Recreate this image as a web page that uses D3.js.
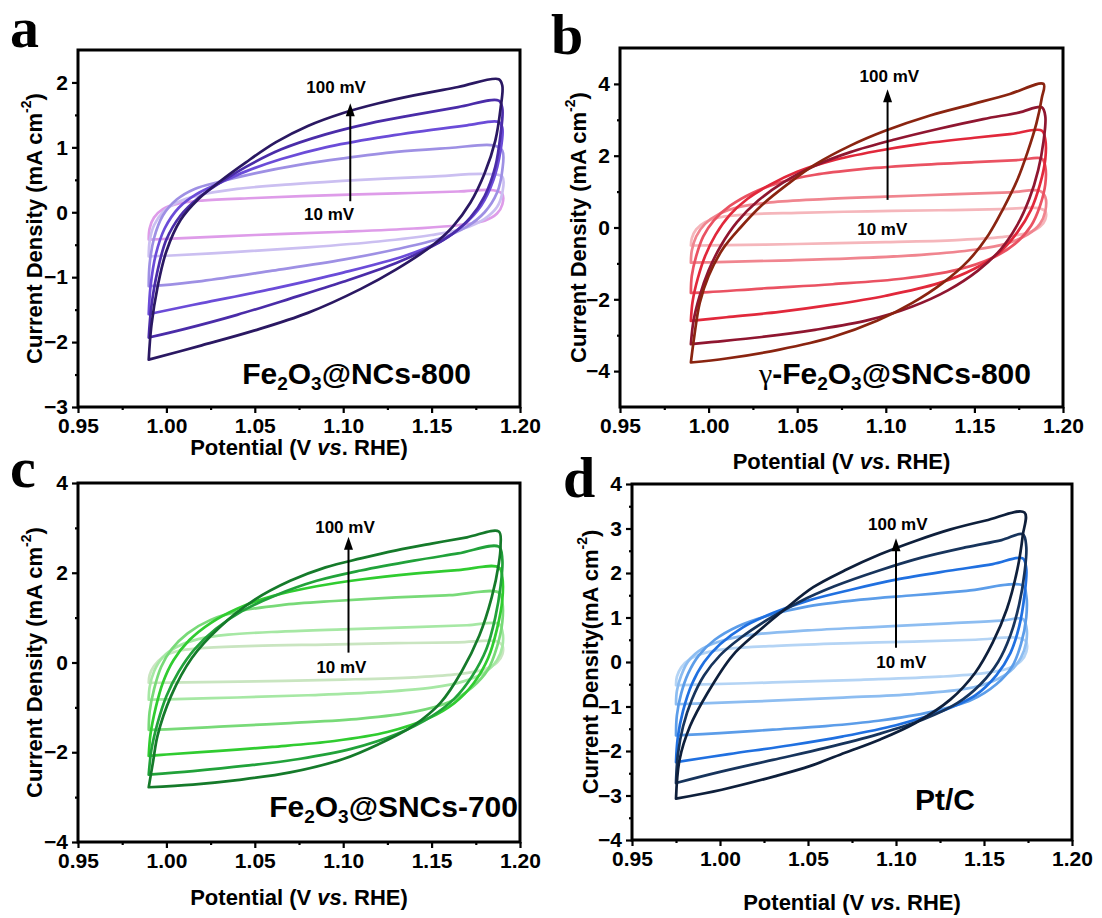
<!DOCTYPE html>
<html><head><meta charset="utf-8">
<script src="https://cdn.jsdelivr.net/npm/d3@7"></script>
<style>body{margin:0;background:#fff}svg{display:block}</style>
</head><body><svg id="chart" width="1102" height="918"></svg>
<script>
// ---------------- DATA ----------------
const scanRates = [10, 20, 40, 60, 80, 100];
const xTickValues = [0.95, 1.00, 1.05, 1.10, 1.15, 1.20];
const yTicksA = [-3, -2, -1, 0, 1, 2];
const yTicksB = [-4, -2, 0, 2, 4];
const yTicksC = [-4, -2, 0, 2, 4];
const yTicksD = [-4, -3, -2, -1, 0, 1, 2, 3, 4];

// Panel a : Fe2O3@NCs-800 (E vs RHE, j mA cm-2), one loop per scan rate
const cvA = [
 [[0.99,-0.42],[0.9905,-0.25],[0.993,-0.08],[0.998,0.05],[1.006,0.13],[1.02,0.18],[1.05,0.22],[1.09,0.26],[1.13,0.29],[1.165,0.32],[1.185,0.34],[1.19,0.28],[1.19,0.12],[1.187,-0.02],[1.18,-0.13],[1.165,-0.2],[1.14,-0.25],[1.1,-0.3],[1.05,-0.35],[1.0,-0.41],[0.99,-0.42]],
 [[0.99,-0.68],[0.9905,-0.45],[0.993,-0.2],[0.998,0.0],[1.006,0.15],[1.018,0.26],[1.04,0.36],[1.07,0.43],[1.11,0.5],[1.15,0.55],[1.18,0.59],[1.19,0.55],[1.19,0.3],[1.187,0.08],[1.18,-0.1],[1.168,-0.25],[1.15,-0.35],[1.12,-0.45],[1.08,-0.54],[1.04,-0.61],[1.0,-0.67],[0.99,-0.68]],
 [[0.99,-1.14],[0.9905,-0.8],[0.993,-0.4],[0.998,-0.05],[1.006,0.2],[1.016,0.36],[1.03,0.47],[1.05,0.6],[1.075,0.73],[1.1,0.83],[1.13,0.93],[1.16,0.99],[1.185,1.03],[1.19,0.95],[1.19,0.65],[1.187,0.3],[1.18,0.0],[1.17,-0.22],[1.155,-0.4],[1.13,-0.57],[1.1,-0.73],[1.06,-0.9],[1.02,-1.06],[0.995,-1.13],[0.99,-1.14]],
 [[0.99,-1.57],[0.991,-1.15],[0.994,-0.65],[0.999,-0.25],[1.007,0.07],[1.017,0.28],[1.03,0.45],[1.045,0.63],[1.065,0.82],[1.09,1.0],[1.12,1.15],[1.15,1.27],[1.17,1.34],[1.188,1.39],[1.19,1.3],[1.189,0.95],[1.185,0.5],[1.178,0.1],[1.168,-0.2],[1.155,-0.45],[1.135,-0.67],[1.1,-0.93],[1.06,-1.18],[1.02,-1.4],[0.995,-1.54],[0.99,-1.57]],
 [[0.99,-1.93],[0.9915,-1.45],[0.995,-0.9],[1.0,-0.42],[1.008,-0.05],[1.018,0.22],[1.03,0.45],[1.045,0.7],[1.065,0.97],[1.09,1.2],[1.115,1.37],[1.14,1.5],[1.165,1.62],[1.188,1.72],[1.19,1.6],[1.189,1.2],[1.186,0.7],[1.18,0.25],[1.172,-0.08],[1.162,-0.33],[1.15,-0.53],[1.13,-0.78],[1.1,-1.07],[1.07,-1.33],[1.04,-1.58],[1.01,-1.8],[0.99,-1.93]],
 [[0.99,-2.27],[0.9915,-1.75],[0.995,-1.15],[1.0,-0.6],[1.008,-0.12],[1.018,0.2],[1.03,0.47],[1.045,0.77],[1.062,1.08],[1.08,1.33],[1.1,1.53],[1.12,1.68],[1.14,1.8],[1.165,1.93],[1.188,2.05],[1.19,1.95],[1.189,1.6],[1.186,1.1],[1.18,0.6],[1.172,0.15],[1.162,-0.22],[1.15,-0.52],[1.13,-0.88],[1.11,-1.18],[1.08,-1.55],[1.05,-1.82],[1.02,-2.05],[0.99,-2.27]]
];

// Panel b : γ-Fe2O3@SNCs-800
const cvB = [
 [[0.99,-0.5],[0.9905,-0.3],[0.993,-0.05],[0.998,0.15],[1.006,0.28],[1.02,0.36],[1.05,0.41],[1.09,0.45],[1.13,0.48],[1.165,0.51],[1.186,0.54],[1.19,0.45],[1.19,0.22],[1.187,0.02],[1.18,-0.15],[1.165,-0.27],[1.14,-0.35],[1.1,-0.41],[1.05,-0.46],[1.0,-0.5],[0.99,-0.5]],
 [[0.99,-0.98],[0.9905,-0.65],[0.993,-0.25],[0.998,0.1],[1.006,0.38],[1.018,0.58],[1.035,0.7],[1.065,0.79],[1.1,0.86],[1.14,0.93],[1.17,0.98],[1.187,1.02],[1.19,0.85],[1.19,0.45],[1.187,0.1],[1.18,-0.2],[1.168,-0.45],[1.15,-0.62],[1.12,-0.76],[1.08,-0.86],[1.04,-0.92],[1.0,-0.97],[0.99,-0.98]],
 [[0.99,-1.82],[0.9905,-1.35],[0.993,-0.8],[0.997,-0.25],[1.003,0.2],[1.012,0.6],[1.025,0.97],[1.04,1.25],[1.06,1.47],[1.085,1.62],[1.115,1.73],[1.15,1.82],[1.175,1.88],[1.188,1.92],[1.19,1.7],[1.19,1.2],[1.187,0.6],[1.182,0.05],[1.173,-0.45],[1.16,-0.85],[1.14,-1.18],[1.11,-1.42],[1.07,-1.58],[1.03,-1.7],[1.0,-1.8],[0.99,-1.82]],
 [[0.99,-2.6],[0.991,-2.05],[0.994,-1.4],[0.998,-0.8],[1.004,-0.2],[1.012,0.35],[1.022,0.8],[1.035,1.2],[1.05,1.55],[1.07,1.87],[1.095,2.13],[1.12,2.33],[1.15,2.5],[1.17,2.6],[1.188,2.7],[1.19,2.45],[1.19,1.9],[1.187,1.2],[1.182,0.5],[1.174,-0.15],[1.164,-0.7],[1.15,-1.15],[1.13,-1.55],[1.1,-1.9],[1.07,-2.15],[1.04,-2.35],[1.01,-2.5],[0.99,-2.6]],
 [[0.99,-3.25],[0.9915,-2.6],[0.995,-1.9],[1.0,-1.2],[1.007,-0.5],[1.016,0.15],[1.028,0.75],[1.042,1.25],[1.06,1.72],[1.08,2.1],[1.105,2.45],[1.13,2.75],[1.155,3.02],[1.175,3.2],[1.188,3.35],[1.19,3.1],[1.189,2.4],[1.186,1.6],[1.181,0.8],[1.174,0.05],[1.165,-0.6],[1.152,-1.2],[1.135,-1.75],[1.115,-2.2],[1.09,-2.58],[1.06,-2.85],[1.03,-3.05],[1.0,-3.2],[0.99,-3.25]],
 [[0.99,-3.76],[0.992,-3.0],[0.995,-2.1],[1.0,-1.35],[1.008,-0.6],[1.018,0.0],[1.03,0.62],[1.045,1.22],[1.06,1.75],[1.08,2.28],[1.1,2.7],[1.125,3.12],[1.15,3.45],[1.17,3.72],[1.189,4.0],[1.188,3.6],[1.185,2.9],[1.18,2.1],[1.174,1.3],[1.166,0.5],[1.158,-0.2],[1.147,-0.9],[1.132,-1.55],[1.115,-2.1],[1.095,-2.6],[1.07,-3.05],[1.04,-3.4],[1.01,-3.65],[0.99,-3.76]]
];

// Panel c : Fe2O3@SNCs-700
const cvC = [
 [[0.99,-0.45],[0.9905,-0.28],[0.993,-0.08],[0.998,0.12],[1.006,0.25],[1.02,0.32],[1.05,0.37],[1.09,0.4],[1.13,0.43],[1.165,0.45],[1.187,0.47],[1.19,0.38],[1.19,0.18],[1.187,0.0],[1.18,-0.15],[1.165,-0.26],[1.14,-0.33],[1.1,-0.38],[1.05,-0.42],[1.0,-0.45],[0.99,-0.45]],
 [[0.99,-0.83],[0.9905,-0.55],[0.993,-0.2],[0.998,0.12],[1.006,0.35],[1.018,0.52],[1.035,0.62],[1.065,0.69],[1.1,0.74],[1.14,0.79],[1.17,0.83],[1.188,0.86],[1.19,0.7],[1.19,0.35],[1.187,0.05],[1.18,-0.22],[1.168,-0.42],[1.15,-0.56],[1.12,-0.66],[1.08,-0.73],[1.04,-0.78],[1.0,-0.82],[0.99,-0.83]],
 [[0.99,-1.5],[0.9905,-1.1],[0.993,-0.6],[0.997,-0.1],[1.003,0.3],[1.012,0.65],[1.025,0.95],[1.042,1.15],[1.065,1.28],[1.095,1.37],[1.13,1.45],[1.16,1.5],[1.188,1.56],[1.19,1.35],[1.19,0.9],[1.187,0.35],[1.182,-0.15],[1.173,-0.55],[1.16,-0.88],[1.14,-1.1],[1.11,-1.25],[1.07,-1.35],[1.03,-1.43],[1.0,-1.49],[0.99,-1.5]],
 [[0.99,-2.08],[0.991,-1.6],[0.994,-1.0],[0.998,-0.45],[1.004,0.05],[1.013,0.5],[1.025,0.88],[1.04,1.2],[1.06,1.48],[1.085,1.7],[1.11,1.85],[1.14,1.98],[1.165,2.06],[1.188,2.12],[1.19,1.9],[1.19,1.4],[1.187,0.75],[1.182,0.1],[1.174,-0.45],[1.163,-0.9],[1.148,-1.25],[1.125,-1.55],[1.095,-1.75],[1.06,-1.88],[1.03,-1.97],[1.0,-2.05],[0.99,-2.08]],
 [[0.99,-2.5],[0.9915,-1.95],[0.995,-1.35],[1.0,-0.75],[1.007,-0.2],[1.016,0.3],[1.028,0.75],[1.043,1.15],[1.062,1.5],[1.085,1.82],[1.11,2.05],[1.14,2.27],[1.165,2.43],[1.188,2.58],[1.19,2.3],[1.189,1.7],[1.186,1.0],[1.181,0.3],[1.173,-0.3],[1.163,-0.8],[1.15,-1.2],[1.13,-1.6],[1.105,-1.92],[1.075,-2.15],[1.045,-2.3],[1.015,-2.42],[0.99,-2.5]],
 [[0.99,-2.78],[0.9925,-2.2],[0.995,-1.63],[1.0026,-0.75],[1.0144,0.1],[1.03,0.78],[1.05,1.4],[1.07,1.82],[1.09,2.12],[1.11,2.32],[1.13,2.5],[1.15,2.65],[1.17,2.79],[1.188,2.92],[1.189,2.6],[1.188,2.2],[1.184,1.45],[1.177,0.6],[1.167,-0.2],[1.155,-0.9],[1.14,-1.4],[1.12,-1.82],[1.1,-2.15],[1.07,-2.45],[1.04,-2.62],[1.015,-2.72],[0.99,-2.78]]
];

// Panel d : Pt/C
const cvD = [
 [[0.975,-0.52],[0.9755,-0.33],[0.978,-0.12],[0.983,0.07],[0.991,0.2],[1.005,0.3],[1.035,0.37],[1.07,0.42],[1.11,0.46],[1.145,0.5],[1.17,0.54],[1.174,0.45],[1.174,0.22],[1.171,0.02],[1.164,-0.14],[1.15,-0.25],[1.125,-0.33],[1.08,-0.4],[1.03,-0.46],[0.985,-0.51],[0.975,-0.52]],
 [[0.975,-0.95],[0.9755,-0.65],[0.978,-0.3],[0.982,0.02],[0.99,0.3],[1.003,0.5],[1.02,0.62],[1.05,0.71],[1.09,0.79],[1.13,0.87],[1.16,0.93],[1.172,0.97],[1.174,0.8],[1.174,0.45],[1.171,0.1],[1.165,-0.2],[1.155,-0.43],[1.14,-0.6],[1.11,-0.72],[1.07,-0.8],[1.03,-0.87],[0.99,-0.93],[0.975,-0.95]],
 [[0.975,-1.65],[0.9755,-1.2],[0.978,-0.7],[0.982,-0.25],[0.988,0.15],[0.997,0.5],[1.01,0.8],[1.028,1.05],[1.05,1.25],[1.08,1.4],[1.11,1.5],[1.14,1.6],[1.172,1.72],[1.174,1.5],[1.174,1.0],[1.171,0.4],[1.166,-0.1],[1.157,-0.5],[1.143,-0.85],[1.12,-1.12],[1.09,-1.32],[1.06,-1.44],[1.03,-1.52],[1.0,-1.6],[0.975,-1.65]],
 [[0.975,-2.25],[0.976,-1.7],[0.979,-1.1],[0.984,-0.5],[0.991,0.0],[1.0,0.4],[1.013,0.78],[1.03,1.1],[1.05,1.38],[1.075,1.63],[1.1,1.85],[1.13,2.05],[1.155,2.2],[1.172,2.33],[1.174,2.1],[1.173,1.5],[1.17,0.8],[1.165,0.2],[1.157,-0.3],[1.145,-0.75],[1.125,-1.12],[1.1,-1.42],[1.07,-1.67],[1.04,-1.87],[1.005,-2.07],[0.975,-2.25]],
 [[0.975,-2.72],[0.976,-2.1],[0.979,-1.45],[0.984,-0.85],[0.991,-0.3],[1.0,0.15],[1.012,0.55],[1.027,0.95],[1.045,1.35],[1.065,1.7],[1.09,2.05],[1.115,2.35],[1.14,2.58],[1.16,2.74],[1.172,2.87],[1.174,2.6],[1.173,2.0],[1.17,1.3],[1.165,0.6],[1.158,0.0],[1.148,-0.5],[1.135,-0.92],[1.115,-1.3],[1.09,-1.62],[1.06,-1.93],[1.03,-2.2],[1.0,-2.47],[0.975,-2.72]],
 [[0.975,-3.07],[0.977,-2.2],[0.983,-1.44],[0.993,-0.69],[1.007,0.14],[1.021,0.66],[1.037,1.19],[1.053,1.68],[1.071,2.06],[1.091,2.42],[1.111,2.72],[1.131,2.98],[1.151,3.18],[1.173,3.36],[1.172,2.84],[1.169,2.09],[1.163,1.19],[1.155,0.44],[1.145,-0.24],[1.131,-0.84],[1.111,-1.37],[1.091,-1.74],[1.071,-2.04],[1.051,-2.34],[1.031,-2.57],[1.001,-2.87],[0.975,-3.07]]
];

// colours per scan rate (10 -> 100 mV)
const colorsA = ['#de9ce9','#cbbff1','#9e90e4','#6b4cd8','#4a2ca8','#2a1862'];
const colorsB = ['#f5b6bb','#f0858f','#ea5262','#e1283b','#8f1630','#8a2410'];
const colorsC = ['#c9e5c0','#a6e8a4','#78da78','#30cc30','#21a23a','#157a2a'];
const colorsD = ['#b4d4f5','#8dbdf1','#5c9de9','#2070e0','#17345c','#0e1f3b'];

// ---------------- DRAW ----------------
const svg = d3.select('#chart');
const SANS = "'Liberation Sans', Arial, sans-serif";
const SERIF = "'Liberation Serif', 'Times New Roman', serif";

const panels = [
  {letter:'a', letterPos:[10,47], loops:cvA, colors:colorsA, yDom:[-3,2.5], yTicks:yTicksA, yMinorStep:0.5,
   box:[78,520,50,407], yTitle:'Current Density (mA cm', yTitleX:34,
   arrow:{x:1.104, y0:0.17, y1:1.68, top:[1.096,1.92], bot:[1.092,-0.04]}, titleDy:48},
  {letter:'b', letterPos:[551,54], loops:cvB, colors:colorsB, yDom:[-5,5], yTicks:yTicksB, yMinorStep:1,
   box:[620,1063,48,407], yTitle:'Current Density (mA cm', yTitleX:578,
   arrow:{x:1.101, y0:0.77, y1:3.85, top:[1.102,4.2], bot:[1.098,-0.06]}, titleDy:62},
  {letter:'c', letterPos:[10,487], loops:cvC, colors:colorsC, yDom:[-4,4], yTicks:yTicksC, yMinorStep:1,
   box:[78,520,483,842], yTitle:'Current Density (mA cm', yTitleX:34,
   arrow:{x:1.103, y0:0.22, y1:2.8, top:[1.101,3.0], bot:[1.099,-0.11]}, titleDy:63},
  {letter:'d', letterPos:[563,497], loops:cvD, colors:colorsD, yDom:[-4,4], yTicks:yTicksD, yMinorStep:0.5,
   box:[632,1072,484,840], yTitle:'Current Density(mA cm', yTitleX:590,
   arrow:{x:1.100, y0:0.32, y1:2.78, top:[1.101,3.1], bot:[1.103,-0.02]}, titleDy:70}
];

const sampleLabels = [
  {parts:[['Fe',0],['2',1],['O',0],['3',1],['@NCs-800',0]], anchorX:471, baseY:384},
  {parts:[['γ',2],['-Fe',0],['2',1],['O',0],['3',1],['@SNCs-800',0]], anchorX:1031, baseY:384},
  {parts:[['Fe',0],['2',1],['O',0],['3',1],['@SNCs-700',0]], anchorX:518, baseY:817},
  {parts:[['Pt/C',0]], anchorX:975, baseY:810}
];

panels.forEach((p, pi) => {
  const [x0,x1,y0,y1] = p.box;
  const x = d3.scaleLinear().domain([0.95,1.20]).range([x0,x1]);
  const y = d3.scaleLinear().domain(p.yDom).range([y1,y0]);
  const g = svg.append('g');

  // curves
  const line = d3.line().x(d=>x(d[0])).y(d=>y(d[1])).curve(d3.curveCatmullRom.alpha(0.5));
  p.loops.forEach((L,i) => {
    g.append('path').attr('d', line(L)).attr('fill','none')
      .attr('stroke', p.colors[i]).attr('stroke-width', 2.7)
      .attr('stroke-linejoin','round').attr('stroke-linecap','round');
  });

  // axes
  const fmt = d3.format('.2f');
  const xMinor = d3.range(0.975, 1.2, 0.05);
  g.append('g').attr('transform',`translate(0,${y1})`)
    .call(d3.axisBottom(x).tickValues(xTickValues).tickFormat(fmt).tickSize(6).tickPadding(5));
  g.append('g').attr('transform',`translate(0,${y1})`)
    .call(d3.axisBottom(x).tickValues(xMinor).tickFormat('').tickSize(3));
  g.append('g').attr('transform',`translate(${x0},0)`)
    .call(d3.axisLeft(y).tickValues(p.yTicks).tickFormat(d3.format('d')).tickSize(6).tickPadding(4));
  const yMinor = d3.range(p.yDom[0]+p.yMinorStep, p.yDom[1], p.yMinorStep).filter(v => !p.yTicks.some(t=>Math.abs(t-v)<1e-9));
  g.append('g').attr('transform',`translate(${x0},0)`)
    .call(d3.axisLeft(y).tickValues(yMinor).tickFormat('').tickSize(3));
  g.selectAll('.domain').remove();
  g.selectAll('.tick line').attr('stroke','#000').attr('stroke-width',2.2);
  g.selectAll('.tick text').attr('font-family',SANS).attr('font-weight','bold')
    .attr('font-size',21).attr('fill','#000');

  // frame
  g.append('rect').attr('x',x0).attr('y',y0).attr('width',x1-x0).attr('height',y1-y0)
    .attr('fill','none').attr('stroke','#000').attr('stroke-width',3);

  // axis titles
  const xt = g.append('text').attr('x',(x0+x1)/2).attr('y',y1+p.titleDy)
    .attr('text-anchor','middle').attr('font-family',SANS).attr('font-weight','bold').attr('font-size',22);
  xt.append('tspan').text('Potential (V ');
  xt.append('tspan').attr('font-style','italic').text('vs');
  xt.append('tspan').text('. RHE)');

  const yt = g.append('text').attr('transform',`translate(${p.yTitleX},${(y0+y1)/2}) rotate(-90)`)
    .attr('text-anchor','middle').attr('dominant-baseline','central')
    .attr('font-family',SANS).attr('font-weight','bold').attr('font-size',22);
  yt.append('tspan').text(p.yTitle);
  yt.append('tspan').attr('font-size',14).attr('dy',-8).text('-2');
  yt.append('tspan').attr('dy',8).text(')');

  // panel letter
  svg.append('text').attr('x',p.letterPos[0]).attr('y',p.letterPos[1])
    .attr('font-family',SERIF).attr('font-weight','bold').attr('font-size',58).text(p.letter);

  // arrow
  const a = p.arrow;
  g.append('line').attr('x1',x(a.x)).attr('x2',x(a.x)).attr('y1',y(a.y0)).attr('y2',y(a.y1)+8)
    .attr('stroke','#000').attr('stroke-width',2);
  const tx = x(a.x), ty = y(a.y1);
  g.append('path').attr('d',`M${tx},${ty} L${tx-4.5},${ty+13} L${tx+4.5},${ty+13} Z`).attr('fill','#000');
  [['100 mV',a.top],['10 mV',a.bot]].forEach(([t,pos]) => {
    g.append('text').attr('x',x(pos[0])).attr('y',y(pos[1])).attr('text-anchor','middle')
      .attr('dominant-baseline','central').attr('font-family',SANS).attr('font-weight','bold')
      .attr('font-size',17).text(t);
  });

  // sample label
  const s = sampleLabels[pi];
  const st = g.append('text').attr('x',s.anchorX).attr('y',s.baseY).attr('text-anchor','end')
    .attr('font-family',SANS).attr('font-weight','bold').attr('font-size',30);
  s.parts.forEach(([t,kind],i) => {
    const ts = st.append('tspan').text(t);
    if (kind===1) ts.attr('font-size',19).attr('dy',6);
    else if (kind===2) ts.attr('font-family',SERIF).attr('font-weight','normal');
    if (kind!==1 && i>0 && s.parts[i-1][1]===1) ts.attr('dy',-6);
  });
});
</script></body></html>
